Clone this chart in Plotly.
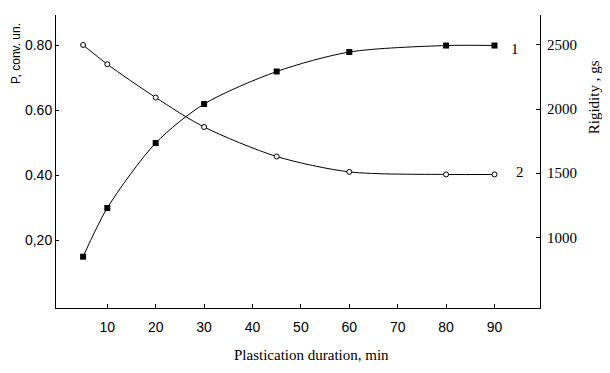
import plotly.graph_objects as go

duration = [5, 10, 20, 30, 45, 60, 80, 90]
p_values = [0.15, 0.30, 0.50, 0.62, 0.72, 0.78, 0.80, 0.80]
rigidity = [2500, 2350, 2090, 1860, 1630, 1510, 1490, 1490]

x_ticks = [10, 20, 30, 40, 50, 60, 70, 80, 90]
p_tickvals = [0.20, 0.40, 0.60, 0.80]
p_ticktext = ["0,20", "0.40", "0.60", "0.80"]
rig_ticks = [1000, 1500, 2000, 2500]

fig = go.Figure()
fig.add_trace(go.Scatter(
    x=duration, y=p_values, mode="lines+markers",
    line=dict(color="black", width=1, shape="spline", smoothing=0.8),
    marker=dict(symbol="square", size=6, color="black"),
    yaxis="y", showlegend=False))
fig.add_trace(go.Scatter(
    x=duration, y=rigidity, mode="lines+markers",
    line=dict(color="black", width=1, shape="spline", smoothing=0.8),
    marker=dict(symbol="circle", size=5, color="white",
                line=dict(color="black", width=1)),
    yaxis="y2", showlegend=False))

sans = "Liberation Sans, Arial, sans-serif"
serif = "Liberation Serif, Times New Roman, serif"

fig.update_layout(
    width=610, height=373,
    margin=dict(l=48, r=78, t=7, b=73),
    paper_bgcolor="white", plot_bgcolor="white",
    xaxis=dict(range=[-0.6, 99.4], tickvals=x_ticks, ticks="inside",
               ticklen=4, tickcolor="black", showline=True, linecolor="black",
               linewidth=1, showgrid=False, zeroline=False,
               tickfont=dict(family=sans, size=14, color="black"),
               ticklabelstandoff=6),
    yaxis=dict(range=[-0.008, 0.894], tickvals=p_tickvals, ticktext=p_ticktext,
               ticks="inside", ticklen=3, tickcolor="black", showline=True,
               linecolor="black", linewidth=1, showgrid=False, zeroline=False,
               tickfont=dict(family=sans, size=14, color="black"),
               ticklabelstandoff=0),
    yaxis2=dict(range=[448, 2734], tickvals=rig_ticks, overlaying="y",
                side="right", ticks="inside", ticklen=4, tickcolor="black",
                showline=True, linecolor="black", linewidth=1, showgrid=False,
                zeroline=False,
                tickfont=dict(family=serif, size=15, color="black"),
                ticklabelstandoff=3),
    annotations=[
        dict(text="P, conv. un.", xref="paper", yref="paper",
             x=-0.083, y=0.87, textangle=-90, showarrow=False,
             xanchor="center", yanchor="middle",
             font=dict(family=sans, size=12, color="black")),
        dict(text="Rigidity , gs", xref="paper", yref="paper",
             x=1.112, y=0.72, textangle=-90, showarrow=False,
             xanchor="center", yanchor="middle",
             font=dict(family=serif, size=15, color="black")),
        dict(text="Plastication duration, min", xref="paper", yref="paper",
             x=0.527, y=-0.16, showarrow=False, xanchor="center",
             yanchor="middle",
             font=dict(family=serif, size=15, color="black")),
        dict(text="1", xref="x", yref="y", x=94.3, y=0.79, showarrow=False,
             xanchor="center", yanchor="middle",
             font=dict(family=serif, size=15, color="black")),
        dict(text="2", xref="x", yref="y2", x=95.3, y=1510, showarrow=False,
             xanchor="center", yanchor="middle",
             font=dict(family=serif, size=15, color="black")),
    ],
)

fig.write_html("out.html")
